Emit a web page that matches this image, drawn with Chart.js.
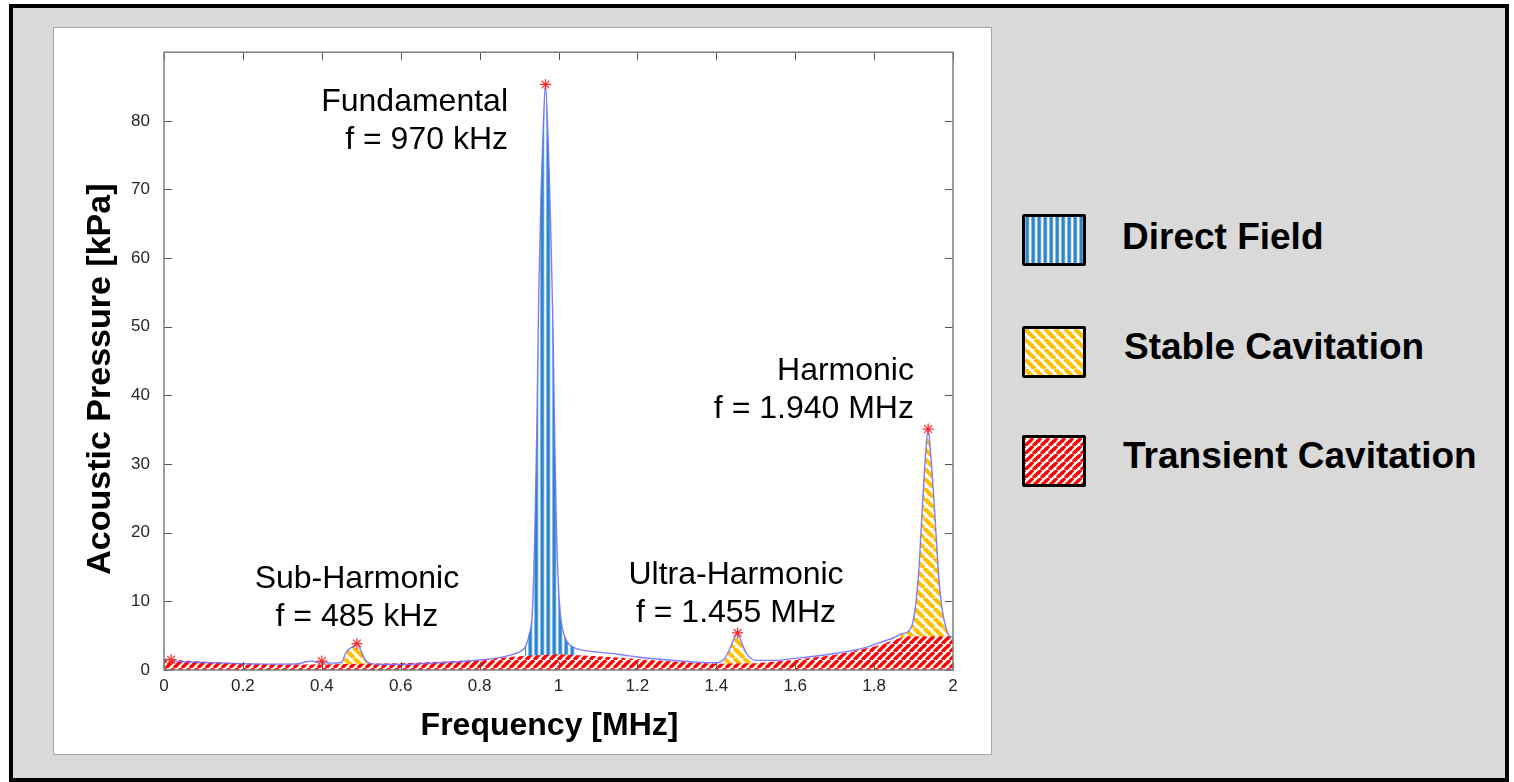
<!DOCTYPE html>
<html>
<head>
<meta charset="utf-8">
<title>Acoustic pressure spectrum</title>
<script src="https://cdn.jsdelivr.net/npm/chart.js@4.4.0/dist/chart.umd.min.js"></script>
<style>
	body { margin: 0; background: #fff; font-family: "Liberation Sans", Arial, sans-serif; }
	.frame { position: absolute; left: 9px; top: 4px; width: 1500px; height: 778px; box-sizing: border-box; border: 4px solid #000; background: #d9d9d9; }
	.panel { position: absolute; left: 53px; top: 27px; width: 937px; height: 726px; border: 1px solid #a6a6a6; background: #fff; }
	.panel canvas { display: block; }
	.key { position: absolute; left: 1022px; width: 64px; height: 52px; box-sizing: border-box; border: 3px solid #000; border-radius: 2px; }
	.key-label { position: absolute; font-weight: bold; font-size: 37px; line-height: 37px; color: #000; white-space: nowrap; }
</style>
</head>
<body>
<div class="frame"></div>
<div class="panel"><canvas id="spectrum" width="937" height="726"></canvas></div>
<div id="legend"></div>

<script>
// Spectrum (MHz / kPa)
const freq = [0, 0.015, 0.03, 0.05, 0.1, 0.15, 0.2, 0.25, 0.3, 0.34, 0.36, 0.375, 0.39, 0.4, 0.42, 0.45, 0.46, 0.47, 0.48, 0.489, 0.5, 0.51, 0.52, 0.55, 0.6, 0.65, 0.7, 0.75, 0.8, 0.85, 0.88, 0.9, 0.915, 0.925, 0.935, 0.945, 0.95, 0.956, 0.962, 0.967, 0.975, 0.98, 0.986, 0.99, 0.995, 1.0, 1.005, 1.01, 1.02, 1.03, 1.045, 1.06, 1.1, 1.15, 1.2, 1.25, 1.3, 1.35, 1.4, 1.42, 1.435, 1.445, 1.454, 1.46, 1.47, 1.48, 1.49, 1.5, 1.55, 1.6, 1.65, 1.7, 1.75, 1.78, 1.8, 1.83, 1.85, 1.866, 1.89, 1.9, 1.909, 1.915, 1.923, 1.93, 1.937, 1.944, 1.952, 1.96, 1.967, 1.975, 1.984, 1.99, 2.0];
const pressure = [1.6, 1.5, 1.3, 1.2, 1.1, 1.0, 0.9, 0.85, 0.85, 0.9, 1.2, 1.3, 1.1, 1.25, 1.0, 1.1, 2.4, 3.1, 3.4, 3.85, 2.7, 1.5, 1.0, 0.8, 0.8, 0.9, 1.05, 1.2, 1.45, 1.8, 2.2, 2.6, 3.3, 5, 10, 35, 55, 70, 80, 85.3, 75, 65, 50, 35, 20, 12, 8, 6, 4.3, 3.6, 3.1, 2.9, 2.6, 2.3, 1.9, 1.6, 1.35, 1.15, 1.05, 1.6, 3.2, 4.6, 5.4, 4.6, 3.2, 2.1, 1.6, 1.4, 1.4, 1.7, 2.0, 2.4, 2.9, 3.3, 3.7, 4.3, 4.7, 5.2, 5.8, 7.5, 11.5, 16, 24.5, 31, 35.1, 31, 24.5, 17, 11.5, 8, 5.8, 5.0, 4.8];

// transient cavitation floor
const floorFreq = [0, 0.1, 0.2, 0.3, 0.4, 0.5, 0.6, 0.7, 0.8, 0.9, 1.0, 1.1, 1.2, 1.3, 1.4, 1.5, 1.6, 1.7, 1.8, 1.88, 2.0];
const floorPressure = [1.6, 1.2, 1.0, 0.8, 0.8, 0.9, 1.0, 1.2, 1.5, 2.0, 2.3, 2.0, 1.6, 1.2, 0.9, 1.0, 1.5, 2.2, 3.4, 4.9, 4.9];

// frequency ranges of the coloured peaks
const directBand = [0.91, 1.045];
const stableBands = [[0.45, 0.52], [1.415, 1.495], [1.86, 2.0]];

// marked peaks
const peakFreq = [0.018, 0.4, 0.489, 0.967, 1.454, 1.937];
const peakPressure = [1.5, 1.3, 3.85, 85.3, 5.4, 35.1];

const xTicks = [0, 0.2, 0.4, 0.6, 0.8, 1, 1.2, 1.4, 1.6, 1.8, 2];
const yTicks = [0, 10, 20, 30, 40, 50, 60, 70, 80];

const legendNames = ["Direct Field", "Stable Cavitation", "Transient Cavitation"];

const notes = [
	{ lines: ["Fundamental", "f = 970 kHz"], x: 0.872, y: 81.4, align: "right" },
	{ lines: ["Sub-Harmonic", "f = 485 kHz"], x: 0.489, y: 12.0, align: "center" },
	{ lines: ["Ultra-Harmonic", "f = 1.455 MHz"], x: 1.45, y: 12.6, align: "center" },
	{ lines: ["Harmonic", "f = 1.940 MHz"], x: 1.901, y: 42.2, align: "right" },
];

const FONT = '"Liberation Sans", Arial, sans-serif';

// fill patterns
function vStripes(color) {
	const c = document.createElement("canvas");
	c.width = 6;
	c.height = 6;
	const g = c.getContext("2d");
	g.fillStyle = "#fff";
	g.fillRect(0, 0, 6, 6);
	g.fillStyle = "#a9d0f0";
	g.fillRect(0, 0, 4.5, 6);
	g.fillStyle = color;
	g.fillRect(0.7, 0, 3, 6);
	return g.createPattern(c, "repeat");
}

function dStripes(color, size, width, rising) {
	const c = document.createElement("canvas");
	c.width = size;
	c.height = size;
	const g = c.getContext("2d");
	g.fillStyle = "#fff";
	g.fillRect(0, 0, size, size);
	g.strokeStyle = color;
	g.lineWidth = width;
	g.beginPath();
	for (let k = -1; k <= 1; k++) {
		if (rising) {
			g.moveTo(k * size, size);
			g.lineTo(k * size + size, 0);
		} else {
			g.moveTo(k * size, 0);
			g.lineTo(k * size + size, size);
		}
	}
	g.stroke();
	return g.createPattern(c, "repeat");
}

const blueFill = vStripes("#2f86cb");
const yellowFill = dStripes("#ffc000", 10, 4.2, false);
const redFill = dStripes("#ff0000", 8, 3.4, true);

const spectrum = freq.map((f, i) => ({ x: f, y: pressure[i] }));
const floorPts = floorFreq.map((f, i) => ({ x: f, y: floorPressure[i] }));
const peaks = peakFreq.map((f, i) => ({ x: f, y: peakPressure[i] }));
const segment = (band) => spectrum.filter((p) => p.x >= band[0] && p.x <= band[1]);

function bandSet(band, pattern) {
	return {
		data: segment(band),
		fill: "origin",
		backgroundColor: pattern,
		borderColor: "rgba(0,0,0,0)",
		borderWidth: 0,
		pointRadius: 0,
		cubicInterpolationMode: "monotone",
		order: 3,
	};
}

// box with inward ticks on all four sides
const frameAndTicks = {
	id: "frameAndTicks",
	afterDatasetsDraw(chart) {
		const { ctx, chartArea: a, scales } = chart;
		ctx.save();
		ctx.strokeStyle = "#555";
		ctx.lineWidth = 1;
		ctx.beginPath();
		xTicks.forEach((v) => {
			const px = Math.round(scales.x.getPixelForValue(v)) + 0.5;
			ctx.moveTo(px, a.bottom);
			ctx.lineTo(px, a.bottom - 8);
			ctx.moveTo(px, a.top);
			ctx.lineTo(px, a.top + 8);
		});
		yTicks.forEach((v) => {
			const py = Math.round(scales.y.getPixelForValue(v)) + 0.5;
			ctx.moveTo(a.left, py);
			ctx.lineTo(a.left + 8, py);
			ctx.moveTo(a.right, py);
			ctx.lineTo(a.right - 8, py);
		});
		ctx.stroke();
		ctx.strokeStyle = "#7f7f7f";
		ctx.lineWidth = 1.5;
		ctx.strokeRect(a.left, a.top, a.right - a.left, a.bottom - a.top);
		ctx.restore();
	},
};

// peak notes and axis titles
const labels = {
	id: "labels",
	afterDraw(chart) {
		const { ctx, chartArea: a, scales } = chart;
		ctx.save();
		ctx.fillStyle = "#000";
		ctx.textBaseline = "alphabetic";
		ctx.font = "32px " + FONT;
		notes.forEach((n) => {
			const px = scales.x.getPixelForValue(n.x);
			const py = scales.y.getPixelForValue(n.y);
			ctx.textAlign = n.align;
			n.lines.forEach((t, i) => ctx.fillText(t, px, py + i * 38));
		});

		ctx.font = "bold 32px " + FONT;
		ctx.textAlign = "center";
		ctx.fillText("Frequency [MHz]", (a.left + a.right) / 2 - 9, a.bottom + 65);

		ctx.font = "bold 34px " + FONT;
		ctx.translate(a.left - 54, (a.top + a.bottom) / 2 + 18);
		ctx.rotate(-Math.PI / 2);
		ctx.fillText("Acoustic Pressure [kPa]", 0, 0);
		ctx.restore();
	},
};

const ctx = document.getElementById("spectrum").getContext("2d");
const chart = new Chart(ctx, {
	type: "line",
	data: {
		datasets: [
			{
				data: peaks,
				showLine: false,
				pointStyle: "star",
				pointRadius: 5.5,
				pointBorderColor: "#ff2a2a",
				pointBorderWidth: 1.2,
				order: 0,
			},
			{
				data: spectrum,
				borderColor: "rgba(112,112,255,0.9)",
				borderWidth: 1.4,
				pointRadius: 0,
				fill: false,
				cubicInterpolationMode: "monotone",
				order: 1,
			},
			{
				data: floorPts,
				fill: "origin",
				backgroundColor: redFill,
				borderColor: "rgba(0,0,0,0)",
				borderWidth: 0,
				pointRadius: 0,
				tension: 0,
				order: 2,
			},
			bandSet(directBand, blueFill),
			...stableBands.map((b) => bandSet(b, yellowFill)),
		],
	},
	options: {
		responsive: false,
		animation: false,
		events: [],
		layout: { padding: { left: 0, top: 19, right: 38, bottom: 0 } },
		plugins: {
			legend: { display: false },
			tooltip: { enabled: false },
		},
		scales: {
			x: {
				type: "linear",
				min: 0,
				max: 2,
				afterBuildTicks: (scale) => {
					scale.ticks = xTicks.map((v) => ({ value: v }));
				},
				afterFit: (scale) => {
					scale.height = 84;
				},
				grid: { display: false, drawTicks: false },
				border: { display: false },
				ticks: {
					padding: 6,
					color: "#262626",
					font: { family: FONT, size: 17 },
					callback: (v) => String(v),
				},
			},
			y: {
				type: "linear",
				min: 0,
				max: 90,
				afterBuildTicks: (scale) => {
					scale.ticks = yTicks.map((v) => ({ value: v }));
				},
				afterFit: (scale) => {
					scale.width = 110;
				},
				grid: { display: false, drawTicks: false },
				border: { display: false },
				ticks: {
					padding: 14,
					color: "#262626",
					font: { family: FONT, size: 17 },
					callback: (v) => String(v),
				},
			},
		},
	},
	plugins: [frameAndTicks, labels],
});

// Legend
const keyFills = [blueFill, yellowFill, redFill];
const keyTops = [214, 326, 435];
const labelTops = [218, 328, 437];
const labelLefts = [1122, 1124, 1123];
const legend = document.getElementById("legend");
legendNames.forEach((name, i) => {
	const key = document.createElement("canvas");
	key.className = "key";
	key.width = 58;
	key.height = 46;
	key.style.top = keyTops[i] + "px";
	const g = key.getContext("2d");
	g.fillStyle = keyFills[i];
	g.fillRect(0, 0, 58, 46);
	legend.appendChild(key);

	const label = document.createElement("div");
	label.className = "key-label";
	label.textContent = name;
	label.style.top = labelTops[i] + "px";
	label.style.left = labelLefts[i] + "px";
	legend.appendChild(label);
});
</script>
</body>
</html>
